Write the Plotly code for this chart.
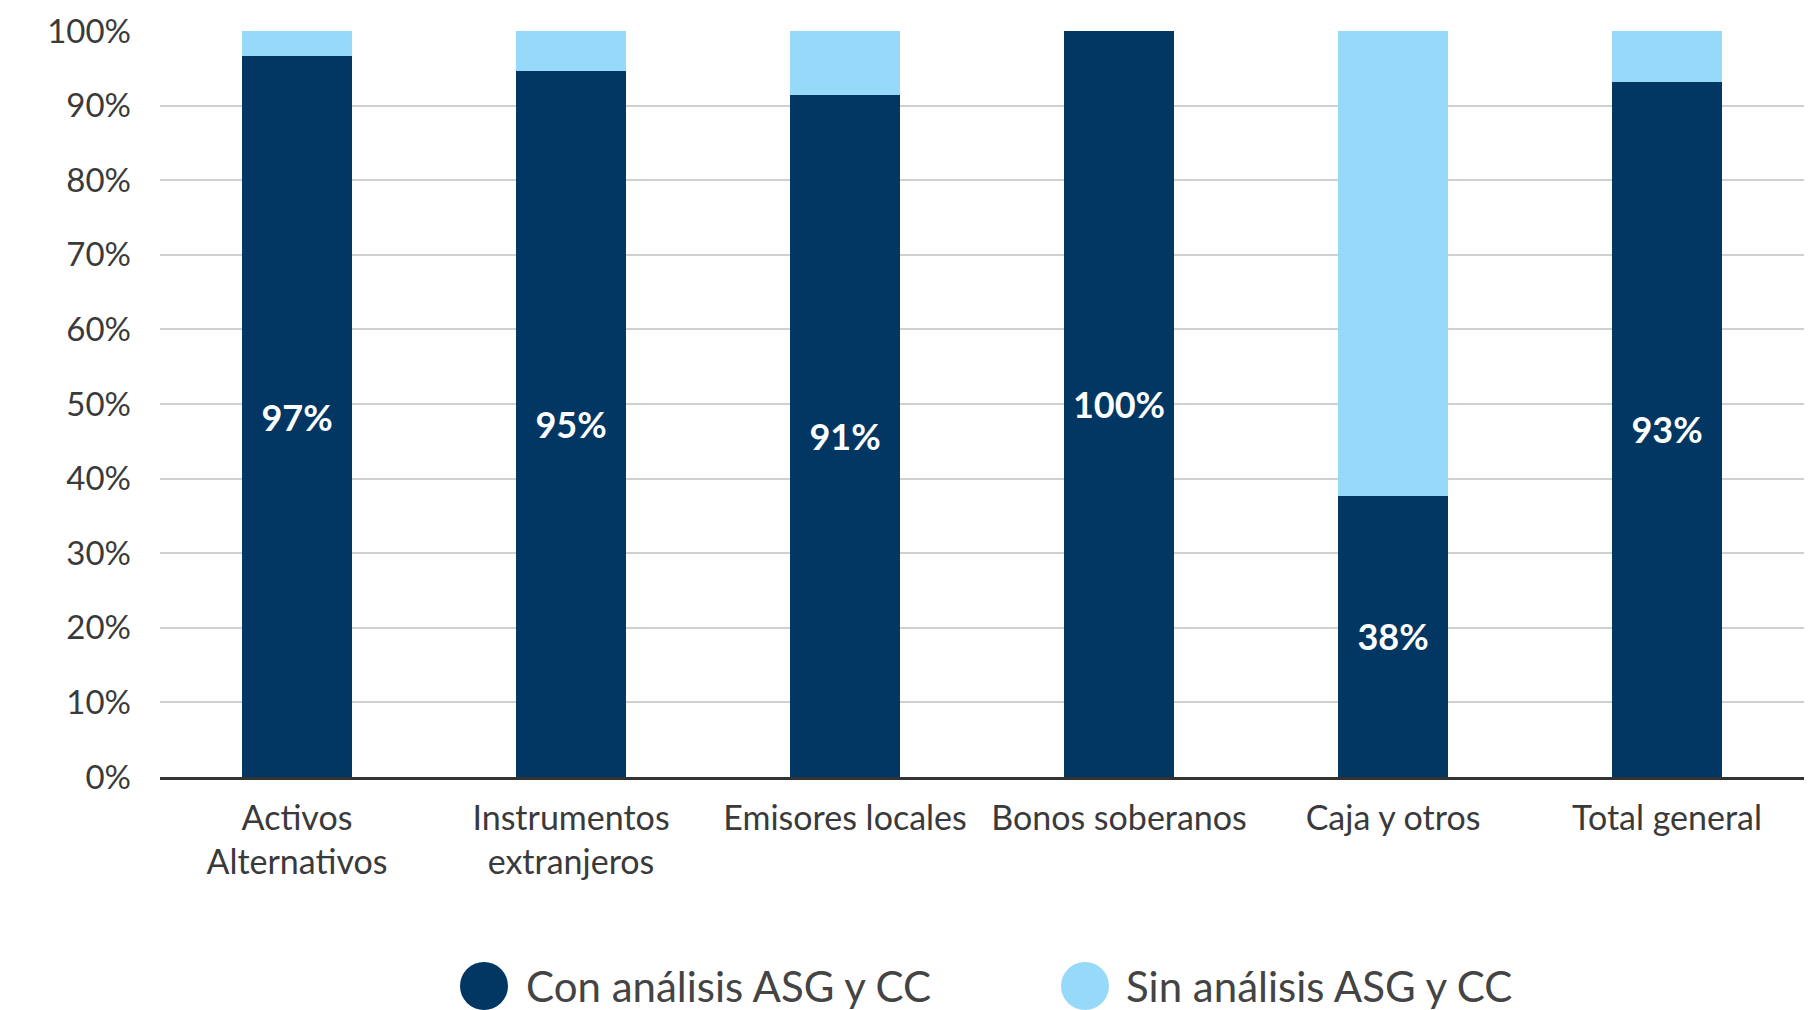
import plotly.graph_objects as go

categories = ["Activos<br>Alternativos", "Instrumentos<br>extranjeros", "Emisores locales",
              "Bonos soberanos", "Caja y otros", "Total general"]
con_analisis = [96.6, 94.6, 91.4, 100.0, 37.7, 93.2]
sin_analisis = [3.4, 5.4, 8.6, 0.0, 62.3, 6.8]
series_names = ["Con análisis ASG y CC", "Sin análisis ASG y CC"]
y_ticks = [0, 10, 20, 30, 40, 50, 60, 70, 80, 90, 100]

DARK = "#023764"
LIGHT = "#96D9F9"
FONT = "Lato"
TXT = "#3a3a3a"

fig = go.Figure()
fig.add_trace(go.Bar(
    x=categories, y=con_analisis, name=series_names[0], marker=dict(color=DARK, line=dict(width=0)),
    texttemplate="<b>%{y:.0f}%</b>", textposition="inside", insidetextanchor="middle",
    textangle=0, constraintext="none",
    textfont=dict(family=FONT, size=36, color="white"), showlegend=False,
))
fig.add_trace(go.Bar(
    x=categories, y=sin_analisis, name=series_names[1], marker=dict(color=LIGHT, line=dict(width=0)),
    showlegend=False, textposition="none",
))

fig.update_layout(
    barmode="stack", bargap=0.6,
    width=1813, height=1010,
    margin=dict(l=160, r=9, t=31, b=233),
    plot_bgcolor="white", paper_bgcolor="white",
    font=dict(family=FONT, color=TXT),
)
fig.update_yaxes(
    range=[0, 100], tickvals=y_ticks, ticktext=[f"{v}%" for v in y_ticks],
    showgrid=True, gridcolor="#d0d0d0", gridwidth=2, zeroline=False,
    tickfont=dict(family=FONT, size=33, color=TXT), ticks="", ticklabelstandoff=28,
    showline=False,
)
fig.update_xaxes(
    showline=True, linecolor="#333333", linewidth=2.5,
    tickfont=dict(family=FONT, size=34, color=TXT), ticks="", ticklabelstandoff=9,
)

# manual legend with large circle markers
legend_items = [(series_names[0], DARK, 484, 524), (series_names[1], LIGHT, 1085, 1124)]
ly = 986
for name, col, cx, tx in legend_items:
    fig.add_shape(type="circle", xref="paper", yref="paper", xsizemode="pixel", ysizemode="pixel",
                  xanchor=(cx - 160) / 1644, yanchor=(1010 - 233 - ly) / 746,
                  x0=-24, x1=24, y0=-24, y1=24, fillcolor=col, line=dict(width=0))
    fig.add_annotation(xref="paper", yref="paper", x=(tx - 160) / 1644, y=(1010 - 233 - ly) / 746,
                       text=name, showarrow=False, xanchor="left", yanchor="middle",
                       font=dict(family=FONT, size=42, color="#444444"))

fig.write_html("out.html", config={"displayModeBar": False},
               post_script="document.body.style.margin='0';document.body.style.overflow='hidden';")
